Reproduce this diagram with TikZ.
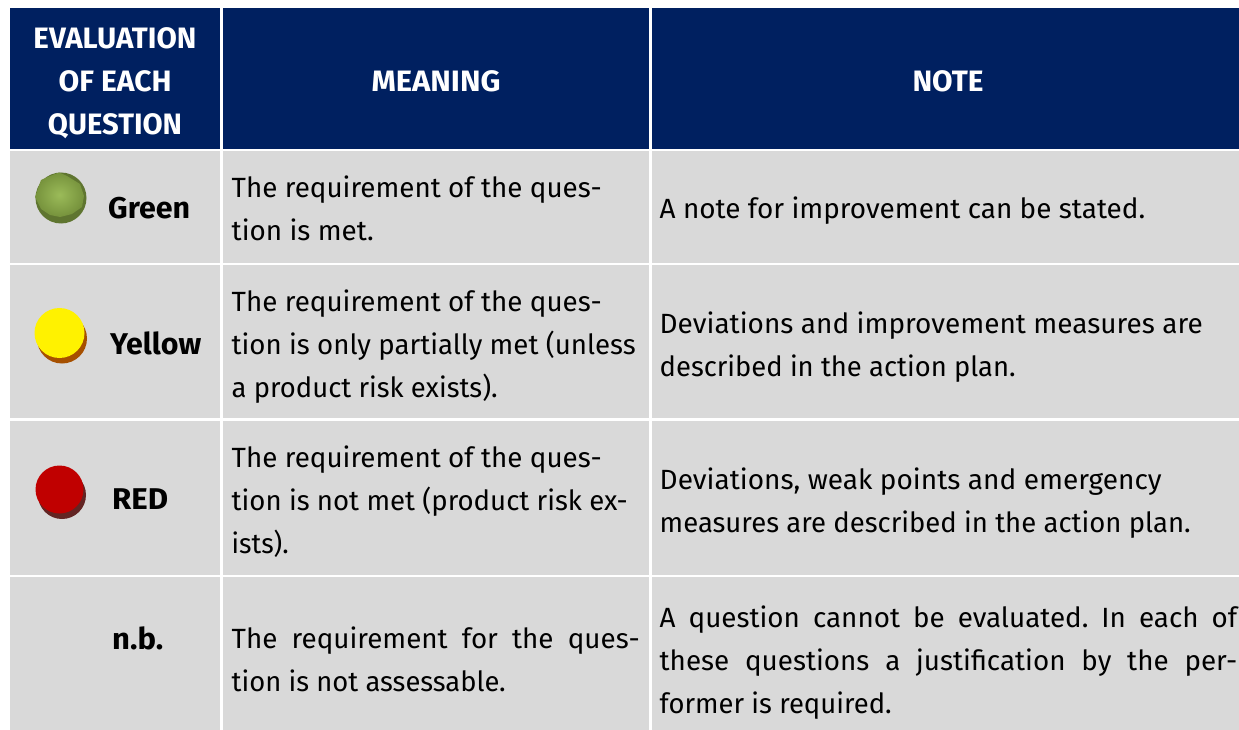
\documentclass[tikz,border=0pt]{standalone}
\usepackage{fontspec}
\usepackage{graphicx}
\setmainfont{Fira Sans}
\frenchspacing
\newcommand{\jl}[2]{\makebox[#1pt][s]{#2}}
\newcommand{\fitw}[2]{\resizebox{#1pt}{\height}{#2}}
\tikzset{
  head/.style={fill=navy},
  cell/.style={fill=cellgrey},
  hd/.style={anchor=base,inner sep=0pt,text=white,font=\fontsize{29.5}{43}\selectfont\bfseries},
  lab/.style={anchor=base west,inner sep=0pt,text=black,font=\fontsize{30}{43}\selectfont\bfseries},
  txt/.style={anchor=base west,inner sep=0pt,text=black,font=\fontsize{27.8}{43}\selectfont,align=left},
}
\definecolor{navy}{HTML}{002060}
\definecolor{cellgrey}{HTML}{D9D9D9}
\begin{document}
\begin{tikzpicture}[x=1pt,y=-1pt]
\useasboundingbox (0,0) rectangle (1239,730);
\fill[white] (0,0) rectangle (1239,730);
% header
\fill[head] (10,8) rectangle (220,149);
\fill[head] (223,8) rectangle (649,149);
\fill[head] (652,8) rectangle (1239,149);
% rows
\foreach \a/\b in {151/262.5,265/418,421/574.5,577/730}{
  \fill[cell] (10,\a) rectangle (220,\b);
  \fill[cell] (223,\a) rectangle (649,\b);
  \fill[cell] (652,\a) rectangle (1239,\b);
}
% header text
\node[hd] (h1a) at (115,48.5) {\fitw{163}{EVALUATION}};
\node[hd] (h1b) at (115,91.5) {\fitw{113}{OF EACH}};
\node[hd] (h1c) at (115,134.5) {\fitw{134}{QUESTION}};
\node[hd] (h2) at (436,91.5) {\fitw{129}{MEANING}};
\node[hd] (h3) at (948,91.5) {\fitw{71}{NOTE}};
% markers
\fill[fill={rgb,255:red,95;green,117;blue,48}] (61,198) circle[radius=25.5];
\shade[inner color={rgb,255:red,155;green,187;blue,89},outer color={rgb,255:red,118;green,146;blue,60}]
  (59,172.5) -- (67,176) -- (80,184) -- (84,196) -- (82,207) -- (72,214) -- (60,217) -- (50,215) -- (41,209) -- (35,197) -- (41,180) -- (50,176) -- cycle;
\fill[fill={rgb,255:red,166;green,80;blue,0}] (62,338.5) circle[radius=25];
\fill[yellow] (59.5,333) circle[radius=25];
\fill[fill={rgb,255:red,99;green,37;blue,35}] (62,495) circle[radius=24];
\fill[fill={rgb,255:red,192;green,0;blue,0}] (59.5,489.5) circle[radius=24];
% labels
\node[lab] (l1) at (108,218.5) {\fitw{82}{Green}};
\node[lab] (l2) at (110,354) {\fitw{91}{Yellow}};
\node[lab] (l3) at (112,509.5) {\fitw{56}{RED}};
\node[lab] (l4) at (112,649.5) {\fitw{51}{n.b.}};
% meaning
\node[txt] (m1a) at (231.5,197.5) {\fitw{370}{The requirement of the ques-}};
\node[txt] (m1b) at (231.5,240.5) {\fitw{142}{tion is met.}};
\node[txt] (m2a) at (231.5,311.5) {\fitw{370}{The requirement of the ques-}};
\node[txt] (m2b) at (231.5,354.5) {\fitw{404}{tion is only partially met (unless}};
\node[txt] (m2c) at (231.5,397) {\fitw{266}{a product risk exists).}};
\node[txt] (m3a) at (231.5,467.5) {\fitw{370}{The requirement of the ques-}};
\node[txt] (m3b) at (231.5,510.5) {\fitw{396}{tion is not met (product risk ex-}};
\node[txt] (m3c) at (231.5,553.5) {\fitw{57}{ists).}};
\node[txt] (m4a) at (231.5,648.5) {\jl{408}{The requirement for the ques-}};
\node[txt] (m4b) at (231.5,691) {\fitw{274}{tion is not assessable.}};
% note
\node[txt] (n1) at (659.5,219) {\fitw{485.5}{A note for improvement can be stated.}};
\node[txt] (n2a) at (659.5,333) {\fitw{543}{Deviations and improvement measures are}};
\node[txt] (n2b) at (659.5,376) {\fitw{356}{described in the action plan.}};
\node[txt] (n3a) at (659.5,489) {\fitw{502}{Deviations, weak points and emergency}};
\node[txt] (n3b) at (659.5,532) {\fitw{531}{measures are described in the action plan.}};
\node[txt] (n4a) at (659.5,627) {\jl{577.5}{A question cannot be evaluated. In each of}};
\node[txt] (n4b) at (659.5,670) {\jl{577.5}{these questions a justification by the per-}};
\node[txt] (n4c) at (659.5,713) {\fitw{232}{former is required.}};
\end{tikzpicture}
\end{document}
